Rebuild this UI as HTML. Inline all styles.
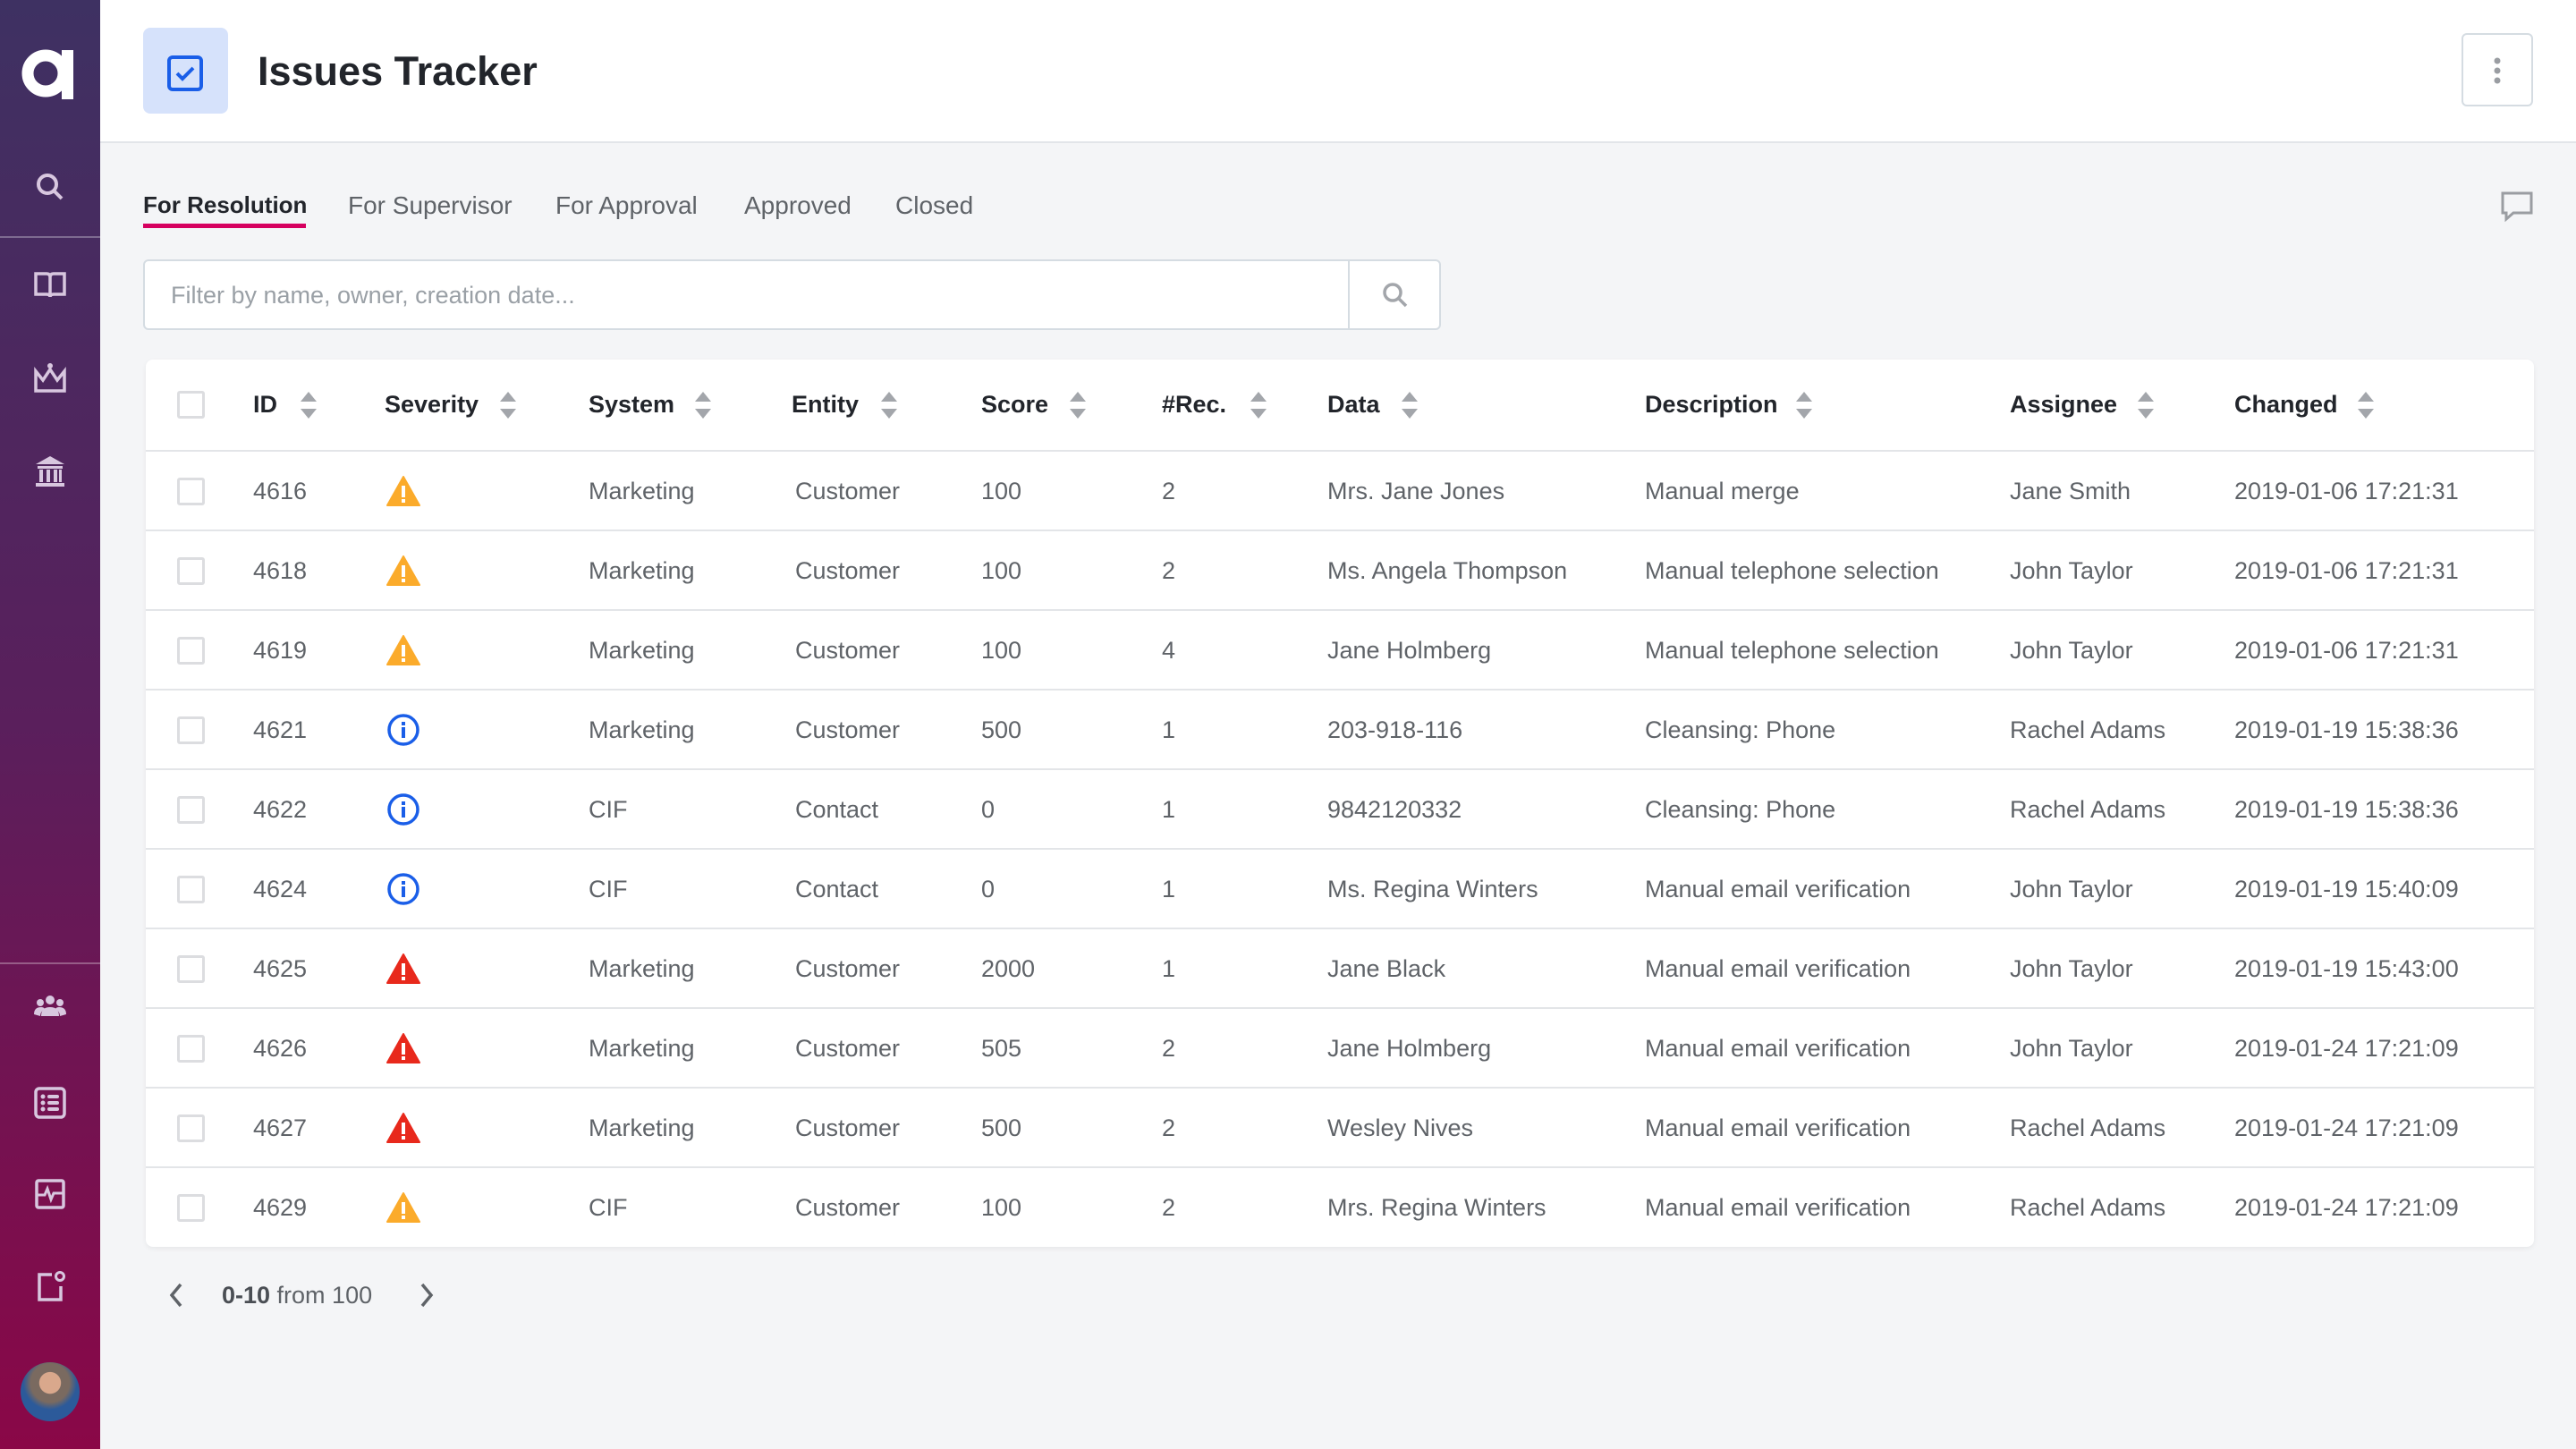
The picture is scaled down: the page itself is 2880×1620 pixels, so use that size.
<!DOCTYPE html>
<html><head><meta charset="utf-8"><style>
*{margin:0;padding:0;box-sizing:border-box}
body{width:2880px;height:1620px;background:#f4f5f7;font-family:"Liberation Sans",sans-serif;position:relative;overflow:hidden}
.side{position:absolute;left:0;top:0;width:112px;height:1620px;background:linear-gradient(#3e3162,#5a1f5c 50%,#8a0747)}
.sep{position:absolute;left:0;width:112px;height:2px;background:rgba(255,255,255,.3)}
.ic{position:absolute;left:36px;width:40px;height:40px}
.hdr{position:absolute;left:112px;top:0;right:0;height:160px;background:#fff;border-bottom:2px solid #e2e5e9}
.abs{position:absolute}
.tab{position:absolute;top:214px;font-size:28px;color:#5f6368}
.card{position:absolute;left:163px;top:402px;width:2670px;height:992px;background:#fff;border-radius:8px;box-shadow:0 2px 6px rgba(0,0,0,.06)}
.r{position:absolute;left:0;right:0;height:89px;border-top:2px solid #e3e5e8}
.r span{position:absolute;top:0;line-height:89px;font-size:27px;color:#5f6368;white-space:nowrap}
.h span{position:absolute;top:0;line-height:101px;font-size:27px;color:#22252b;font-weight:bold;white-space:nowrap}
.cb{position:absolute;left:35px;width:31px;height:31px;border:3px solid #dcdde0;border-radius:3px}
.r .cb{top:29px}
.srt{position:absolute;top:36px;width:18px;height:30px}
.sv{position:absolute;left:269px;top:26px;width:38px;height:36px}
</style></head><body>
<div class="side">
 <svg class="abs" style="left:24px;top:53px" width="60" height="58" viewBox="0 0 60 58"><circle cx="27" cy="29" r="20" fill="none" stroke="#fff" stroke-width="13"/><rect x="45" y="3" width="13" height="55" fill="#fff"/></svg>
 <svg class="ic" style="top:189px" viewBox="0 0 40 40"><circle cx="17" cy="17" r="10" fill="none" stroke="#d8c7df" stroke-width="4"/><line x1="25" y1="25" x2="33" y2="33" stroke="#d8c7df" stroke-width="4"/></svg>
 <div class="sep" style="top:264px"></div>
 <svg class="ic" style="top:298px" viewBox="0 0 40 40"><path d="M4 8h12q4 0 4 4v22q0-3-4-3H4zM36 8H24q-4 0-4 4v22q0-3 4-3h12z" fill="none" stroke="#d8c7df" stroke-width="3.5"/></svg>
 <svg class="ic" style="top:403px" viewBox="0 0 40 40"><path d="M4 12v22h32V12l-8 10-8-12-8 12z" fill="none" stroke="#d8c7df" stroke-width="3.5"/><circle cx="20" cy="6" r="3" fill="#d8c7df"/></svg>
 <svg class="ic" style="top:507px" viewBox="0 0 40 40"><path d="M20 3L4 12h32z M6 14h28v3H6z M8 18h4v14H8z M16 18h4v14h-4z M24 18h4v14h-4z M30 18h3v14h-3z M4 33h32v4H4z" fill="#d8c7df"/></svg>
 <div class="sep" style="top:1076px"></div>
 <svg class="ic" style="top:1106px" viewBox="0 0 40 40"><g fill="#d8c7df"><circle cx="20" cy="12" r="5"/><circle cx="9" cy="15" r="4"/><circle cx="31" cy="15" r="4"/><path d="M10 30q0-10 10-10t10 10z"/><path d="M2 28q0-8 8-8 3 0 4 2-5 3-5 8z M38 28q0-8-8-8-3 0-4 2 5 3 5 8z"/></g></svg>
 <svg class="ic" style="top:1213px" viewBox="0 0 40 40"><rect x="4" y="4" width="32" height="32" rx="4" fill="none" stroke="#d8c7df" stroke-width="3.5"/><g fill="#d8c7df"><circle cx="12" cy="13" r="2.5"/><circle cx="12" cy="20" r="2.5"/><circle cx="12" cy="27" r="2.5"/><rect x="17" y="11" width="13" height="4" rx="2"/><rect x="17" y="18" width="13" height="4" rx="2"/><rect x="17" y="25" width="13" height="4" rx="2"/></g></svg>
 <svg class="ic" style="top:1315px" viewBox="0 0 40 40"><rect x="5" y="5" width="30" height="30" rx="2" fill="none" stroke="#d8c7df" stroke-width="3.5"/><path d="M5 21h9l3-7 4 12 3-7h11" fill="none" stroke="#d8c7df" stroke-width="3"/></svg>
 <svg class="ic" style="top:1418px" viewBox="0 0 40 40"><path d="M22 7H8v28h24V20" fill="none" stroke="#d8c7df" stroke-width="3.5"/><circle cx="31" cy="9" r="4.5" fill="none" stroke="#d8c7df" stroke-width="3"/></svg>
 <div class="abs" style="left:23px;top:1523px;width:66px;height:66px;border-radius:50%;background:radial-gradient(circle at 50% 35%,#d9a88c 0 22%,#7a6a60 23% 40%,#2c5a9a 55%)"></div>
</div>
<div class="hdr"></div>
<div class="abs" style="left:160px;top:31px;width:95px;height:96px;background:#d6e2fb;border-radius:8px"></div>
<svg class="abs" style="left:187px;top:62px" width="40" height="40" viewBox="0 0 40 40"><rect x="2" y="2" width="36" height="36" rx="4" fill="none" stroke="#1a5ee8" stroke-width="4"/><path d="M11 20l6 6 12-12" fill="none" stroke="#1a5ee8" stroke-width="4"/></svg>
<div class="abs" style="left:288px;top:51px;font-size:45px;line-height:58px;color:#22252b;font-weight:bold">Issues Tracker</div>
<div class="abs" style="left:2752px;top:37px;width:80px;height:82px;border:2px solid #d5dce2;border-radius:6px;background:#fff"></div>
<svg class="abs" style="left:2784px;top:62px" width="16" height="34" viewBox="0 0 16 34"><g fill="#9a9da2"><circle cx="8" cy="6" r="3.5"/><circle cx="8" cy="17" r="3.5"/><circle cx="8" cy="28" r="3.5"/></g></svg>
<div class="tab" style="left:160px;color:#22252b;font-weight:bold;font-size:26px">For Resolution</div>
<div class="abs" style="left:160px;top:250px;width:182px;height:5px;background:#d6005f"></div>
<div class="tab" style="left:389px">For Supervisor</div>
<div class="tab" style="left:621px">For Approval</div>
<div class="tab" style="left:832px">Approved</div>
<div class="tab" style="left:1001px">Closed</div>
<svg class="abs" style="left:2796px;top:214px" width="36" height="36" viewBox="0 0 36 36"><path d="M2 2h32v22H14l-8 7v-7H2z" fill="none" stroke="#9a9da2" stroke-width="3"/></svg>
<div class="abs" style="left:160px;top:290px;width:1451px;height:79px;background:#fff;border:2px solid #d5dce2;border-radius:6px"></div>
<div class="abs" style="left:1507px;top:290px;width:2px;height:79px;background:#d5dce2"></div>
<div class="abs" style="left:191px;top:312px;font-size:27px;line-height:36px;color:#9aa0a6">Filter by name, owner, creation date...</div>
<svg class="abs" style="left:1542px;top:312px" width="36" height="36" viewBox="0 0 36 36"><circle cx="15" cy="15" r="9" fill="none" stroke="#a3a6ab" stroke-width="3.5"/><line x1="22" y1="22" x2="30" y2="30" stroke="#a3a6ab" stroke-width="3.5"/></svg>
<svg width="0" height="0" style="position:absolute"><defs>
<g id="s"><path d="M9 0L18 11H0z" fill="#a3a6ab"/><path d="M9 30L18 19H0z" fill="#a3a6ab"/></g>
<g id="w"><path d="M19 2L37 34H1z" fill="#fbab2b" stroke="#fbab2b" stroke-width="2" stroke-linejoin="round"/><rect x="17" y="12" width="4" height="13" fill="#fff"/><rect x="17" y="27" width="4" height="4" fill="#fff"/></g>
<g id="e"><path d="M19 2L37 34H1z" fill="#e8291c" stroke="#e8291c" stroke-width="2" stroke-linejoin="round"/><rect x="17" y="12" width="4" height="13" fill="#fff"/><rect x="17" y="27" width="4" height="4" fill="#fff"/></g>
<g id="i"><circle cx="19" cy="18" r="16" fill="none" stroke="#1a5ee8" stroke-width="3.5"/><rect x="17" y="15" width="4" height="12" fill="#1a5ee8"/><rect x="17" y="9" width="4" height="4" fill="#1a5ee8"/></g>
</defs></svg>
<div class="card">
 <div class="h" style="position:absolute;left:0;right:0;top:0;height:101px">
  <div class="cb" style="top:35px"></div>
  <span style="left:120px">ID</span><span style="left:267px">Severity</span><span style="left:495px">System</span><span style="left:722px">Entity</span><span style="left:934px">Score</span><span style="left:1136px">#Rec.</span><span style="left:1321px">Data</span><span style="left:1676px">Description</span><span style="left:2084px">Assignee</span><span style="left:2335px">Changed</span>
  <svg class="srt" style="left:173px"><use href="#s"/></svg><svg class="srt" style="left:396px"><use href="#s"/></svg><svg class="srt" style="left:614px"><use href="#s"/></svg><svg class="srt" style="left:822px"><use href="#s"/></svg><svg class="srt" style="left:1033px"><use href="#s"/></svg><svg class="srt" style="left:1235px"><use href="#s"/></svg><svg class="srt" style="left:1404px"><use href="#s"/></svg><svg class="srt" style="left:1845px"><use href="#s"/></svg><svg class="srt" style="left:2227px"><use href="#s"/></svg><svg class="srt" style="left:2473px"><use href="#s"/></svg>
 </div>
 <div class="r" style="top:101px"><div class="cb"></div><span style="left:120px">4616</span><svg class="sv"><use href="#w"/></svg><span style="left:495px">Marketing</span><span style="left:726px">Customer</span><span style="left:934px">100</span><span style="left:1136px">2</span><span style="left:1321px">Mrs. Jane Jones</span><span style="left:1676px">Manual merge</span><span style="left:2084px">Jane Smith</span><span style="left:2335px">2019-01-06 17:21:31</span></div>
 <div class="r" style="top:190px"><div class="cb"></div><span style="left:120px">4618</span><svg class="sv"><use href="#w"/></svg><span style="left:495px">Marketing</span><span style="left:726px">Customer</span><span style="left:934px">100</span><span style="left:1136px">2</span><span style="left:1321px">Ms. Angela Thompson</span><span style="left:1676px">Manual telephone selection</span><span style="left:2084px">John Taylor</span><span style="left:2335px">2019-01-06 17:21:31</span></div>
 <div class="r" style="top:279px"><div class="cb"></div><span style="left:120px">4619</span><svg class="sv"><use href="#w"/></svg><span style="left:495px">Marketing</span><span style="left:726px">Customer</span><span style="left:934px">100</span><span style="left:1136px">4</span><span style="left:1321px">Jane Holmberg</span><span style="left:1676px">Manual telephone selection</span><span style="left:2084px">John Taylor</span><span style="left:2335px">2019-01-06 17:21:31</span></div>
 <div class="r" style="top:368px"><div class="cb"></div><span style="left:120px">4621</span><svg class="sv"><use href="#i"/></svg><span style="left:495px">Marketing</span><span style="left:726px">Customer</span><span style="left:934px">500</span><span style="left:1136px">1</span><span style="left:1321px">203-918-116</span><span style="left:1676px">Cleansing: Phone</span><span style="left:2084px">Rachel Adams</span><span style="left:2335px">2019-01-19 15:38:36</span></div>
 <div class="r" style="top:457px"><div class="cb"></div><span style="left:120px">4622</span><svg class="sv"><use href="#i"/></svg><span style="left:495px">CIF</span><span style="left:726px">Contact</span><span style="left:934px">0</span><span style="left:1136px">1</span><span style="left:1321px">9842120332</span><span style="left:1676px">Cleansing: Phone</span><span style="left:2084px">Rachel Adams</span><span style="left:2335px">2019-01-19 15:38:36</span></div>
 <div class="r" style="top:546px"><div class="cb"></div><span style="left:120px">4624</span><svg class="sv"><use href="#i"/></svg><span style="left:495px">CIF</span><span style="left:726px">Contact</span><span style="left:934px">0</span><span style="left:1136px">1</span><span style="left:1321px">Ms. Regina Winters</span><span style="left:1676px">Manual email verification</span><span style="left:2084px">John Taylor</span><span style="left:2335px">2019-01-19 15:40:09</span></div>
 <div class="r" style="top:635px"><div class="cb"></div><span style="left:120px">4625</span><svg class="sv"><use href="#e"/></svg><span style="left:495px">Marketing</span><span style="left:726px">Customer</span><span style="left:934px">2000</span><span style="left:1136px">1</span><span style="left:1321px">Jane Black</span><span style="left:1676px">Manual email verification</span><span style="left:2084px">John Taylor</span><span style="left:2335px">2019-01-19 15:43:00</span></div>
 <div class="r" style="top:724px"><div class="cb"></div><span style="left:120px">4626</span><svg class="sv"><use href="#e"/></svg><span style="left:495px">Marketing</span><span style="left:726px">Customer</span><span style="left:934px">505</span><span style="left:1136px">2</span><span style="left:1321px">Jane Holmberg</span><span style="left:1676px">Manual email verification</span><span style="left:2084px">John Taylor</span><span style="left:2335px">2019-01-24 17:21:09</span></div>
 <div class="r" style="top:813px"><div class="cb"></div><span style="left:120px">4627</span><svg class="sv"><use href="#e"/></svg><span style="left:495px">Marketing</span><span style="left:726px">Customer</span><span style="left:934px">500</span><span style="left:1136px">2</span><span style="left:1321px">Wesley Nives</span><span style="left:1676px">Manual email verification</span><span style="left:2084px">Rachel Adams</span><span style="left:2335px">2019-01-24 17:21:09</span></div>
 <div class="r" style="top:902px;height:90px"><div class="cb"></div><span style="left:120px">4629</span><svg class="sv"><use href="#w"/></svg><span style="left:495px">CIF</span><span style="left:726px">Customer</span><span style="left:934px">100</span><span style="left:1136px">2</span><span style="left:1321px">Mrs. Regina Winters</span><span style="left:1676px">Manual email verification</span><span style="left:2084px">Rachel Adams</span><span style="left:2335px">2019-01-24 17:21:09</span></div>
</div>
<svg class="abs" style="left:186px;top:1432px" width="22" height="32" viewBox="0 0 22 32"><path d="M16 4L6 16l10 12" fill="none" stroke="#5f6368" stroke-width="3.5"/></svg>
<div class="abs" style="left:248px;top:1430px;font-size:27px;line-height:36px;color:#5f6368"><b style="color:#4a4e54">0-10</b> from 100</div>
<svg class="abs" style="left:466px;top:1432px" width="22" height="32" viewBox="0 0 22 32"><path d="M6 4l10 12L6 28" fill="none" stroke="#5f6368" stroke-width="3.5"/></svg>
</body></html>
